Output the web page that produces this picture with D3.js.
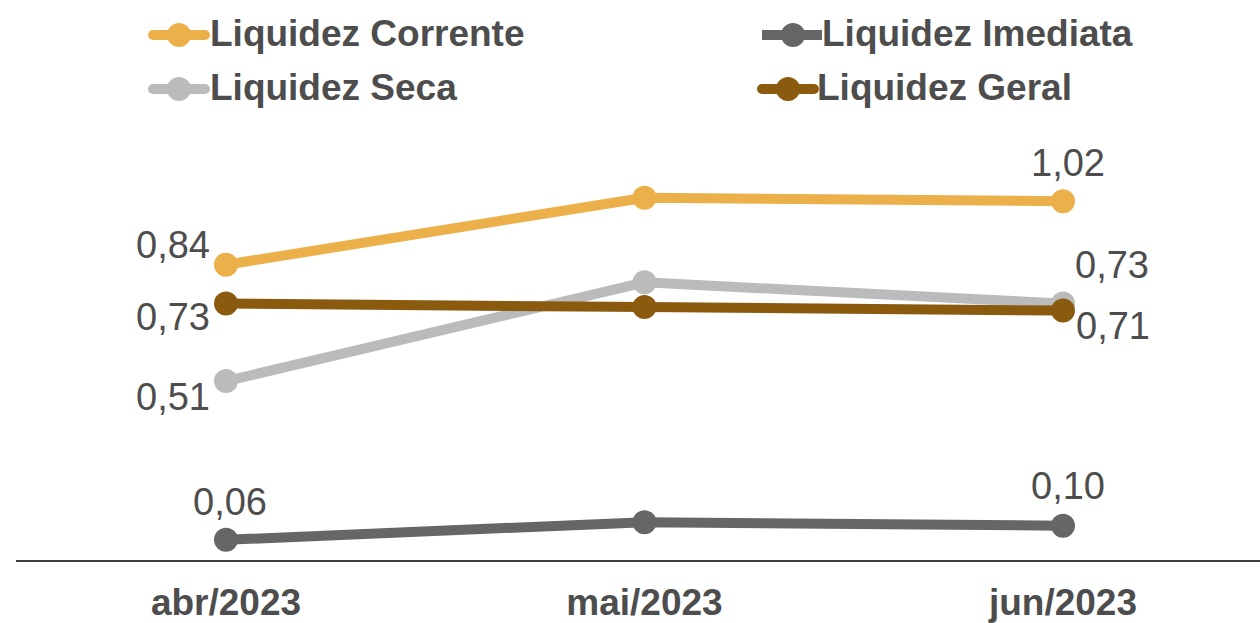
<!DOCTYPE html>
<html>
<head>
<meta charset="utf-8">
<script src="https://cdn.jsdelivr.net/npm/d3@7"></script>
<style>
  body { margin: 0; background: #fff; }
  svg { display: block; font-family: "Liberation Sans", Arial, sans-serif; }
</style>
</head>
<body>
<svg id="chart" width="1260" height="623"></svg>
<script>
// data
var months = ["abr/2023", "mai/2023", "jun/2023"]
var corrente = [0.84, 1.03, 1.02]
var imediata = [0.06, 0.11, 0.10]
var seca = [0.51, 0.79, 0.73]
var geral = [0.73, 0.72, 0.71]

var series = [
    {name: "Liquidez Corrente", values: corrente, color: "#ECB04A", cap: "round"},
    {name: "Liquidez Imediata", values: imediata, color: "#666666", cap: "butt"},
    {name: "Liquidez Seca", values: seca, color: "#BBBBBB", cap: "round"},
    {name: "Liquidez Geral", values: geral, color: "#8A5A0E", cap: "round"}
]

// which labels to show and where (dx, dy from the point, anchor)
var labels = [
    {s: 0, i: 0, dx: -53, dy: -7, anchor: "middle"},
    {s: 0, i: 2, dx: 5, dy: -25, anchor: "middle"},
    {s: 1, i: 0, dx: 4, dy: -25, anchor: "middle"},
    {s: 1, i: 2, dx: 5, dy: -27, anchor: "middle"},
    {s: 2, i: 0, dx: -16, dy: 29, anchor: "end"},
    {s: 2, i: 2, dx: 49, dy: -26, anchor: "middle"},
    {s: 3, i: 0, dx: -16, dy: 26, anchor: "end"},
    {s: 3, i: 2, dx: 50, dy: 28, anchor: "middle"}
]

var svg = d3.select("#chart")

var x = d3.scalePoint()
    .domain(months)
    .range([226, 1063])

var y = d3.scaleLinear()
    .domain([0, 1.1])
    .range([561, 173])

// axis line
svg.append("line")
    .attr("x1", 16).attr("x2", 1260)
    .attr("y1", y(0)).attr("y2", y(0))
    .attr("stroke", "#000").attr("stroke-width", 1.6)

// category labels
svg.selectAll(".xlabel")
    .data(months)
    .enter()
    .append("text")
        .attr("class", "xlabel")
        .attr("x", function(d){ return x(d) })
        .attr("y", 615)
        .attr("text-anchor", "middle")
        .attr("font-size", 37)
        .attr("font-weight", "bold")
        .attr("fill", "#4D4D4D")
        .text(function(d){ return d })

var line = d3.line()
    .x(function(d, i){ return x(months[i]) })
    .y(function(d){ return y(d) })

var groups = svg.selectAll(".series")
    .data(series)
    .enter()
    .append("g")
        .attr("class", "series")

groups.append("path")
    .attr("d", function(d){ return line(d.values) })
    .attr("fill", "none")
    .attr("stroke", function(d){ return d.color })
    .attr("stroke-width", 10)
    .attr("stroke-linejoin", "round")

groups.selectAll("circle")
    .data(function(d){ return d.values.map(function(v, i){ return {v: v, i: i, color: d.color} }) })
    .enter()
    .append("circle")
        .attr("cx", function(d){ return x(months[d.i]) })
        .attr("cy", function(d){ return y(d.v) })
        .attr("r", 12)
        .attr("fill", function(d){ return d.color })

// value labels
svg.selectAll(".vlabel")
    .data(labels)
    .enter()
    .append("text")
        .attr("class", "vlabel")
        .attr("x", function(d){ return x(months[d.i]) + d.dx })
        .attr("y", function(d){ return y(series[d.s].values[d.i]) + d.dy })
        .attr("text-anchor", function(d){ return d.anchor })
        .attr("font-size", 38)
        .attr("fill", "#4D4D4D")
        .text(function(d){ return series[d.s].values[d.i].toFixed(2).replace(".", ",") })

// legend
var legendPos = [
    {x: 148, y: 35},
    {x: 762, y: 35},
    {x: 148, y: 89},
    {x: 757, y: 89}
]

var legend = svg.selectAll(".legend")
    .data(series)
    .enter()
    .append("g")
        .attr("class", "legend")
        .attr("transform", function(d, i){ return "translate(" + legendPos[i].x + "," + legendPos[i].y + ")" })

legend.append("line")
    .attr("x1", function(d){ return d.cap == "round" ? 5 : 0 })
    .attr("x2", function(d){ return d.cap == "round" ? 57 : 60 })
    .attr("stroke", function(d){ return d.color })
    .attr("stroke-width", 10)
    .attr("stroke-linecap", function(d){ return d.cap })

legend.append("circle")
    .attr("cx", 31)
    .attr("r", 12)
    .attr("fill", function(d){ return d.color })

legend.append("text")
    .attr("x", function(d, i){ return i % 2 == 1 ? 60 : 62 })
    .attr("y", 11)
    .attr("font-size", 37)
    .attr("font-weight", "bold")
    .attr("fill", "#4D4D4D")
    .text(function(d){ return d.name })
</script>
</body>
</html>
